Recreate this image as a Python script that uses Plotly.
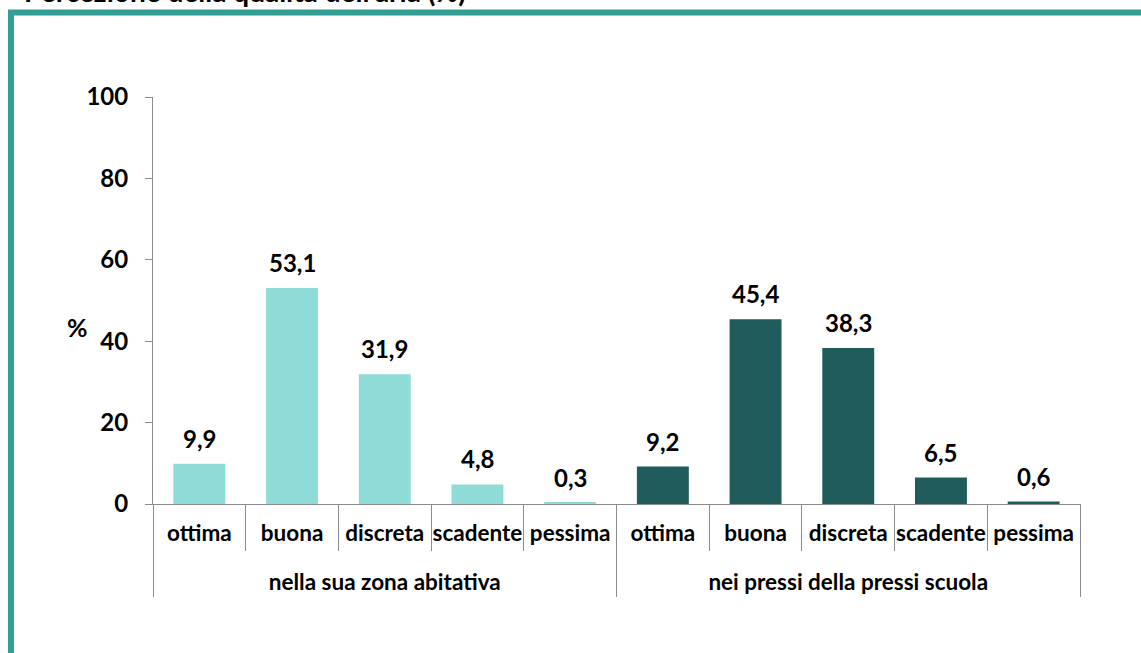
import plotly.graph_objects as go

groups = ["nella sua zona abitativa", "nei pressi della pressi scuola"]
categories = ["ottima", "buona", "discreta", "scadente", "pessima"]
zona_values = [9.9, 53.1, 31.9, 4.8, 0.3]
scuola_values = [9.2, 45.4, 38.3, 6.5, 0.6]
y_ticks = [0, 20, 40, 60, 80, 100]

colors = ["#8FDBD7", "#1F5C5B"]
grey = "#8C8C8C"
font = "Lato, Open Sans, sans-serif"


def fmt(v):
    return f"{v:.1f}".replace(".", ",")


n = len(categories)
all_labels = categories * len(groups)
positions = list(range(len(all_labels)))
group_centers = [g * n + (n - 1) / 2 for g in range(len(groups))]

fig = go.Figure()
for i, vals in enumerate([zona_values, scuola_values]):
    xs = positions[i * n:(i + 1) * n]
    fig.add_trace(go.Bar(
        x=xs, y=vals,
        marker=dict(color=colors[i], line=dict(width=0)),
        showlegend=False, hoverinfo="skip",
    ))
    for x, v in zip(xs, vals):
        fig.add_annotation(x=x, y=v, xref="x", yref="y", text=f"<b>{fmt(v)}</b>",
                           showarrow=False, yanchor="bottom", yshift=9,
                           font=dict(size=24, color="black", family=font))

# hidden trace to activate the group axis
fig.add_trace(go.Scatter(x=[positions[0]], y=[0], xaxis="x2", yaxis="y",
                         mode="markers", marker=dict(opacity=0), showlegend=False,
                         hoverinfo="skip"))

fig.add_annotation(x=-0.095, y=0.54, xref="paper", yref="paper", text="<b>%</b>",
                   showarrow=False, font=dict(size=25, color="black", family=font))

fig.add_annotation(x=-0.1413, y=1.1735, xref="paper", yref="paper", xanchor="left", yanchor="bottom",
                   text="<b>Percezione della qualità dell'aria (%)</b>", showarrow=False,
                   font=dict(size=28, color="black", family=font))

# frame
fig.add_shape(type="rect", xref="paper", yref="paper",
              x0=-0.1532, x1=1.2, y0=-0.5, y1=1.169,
              line=dict(color="#339E96", width=6), layer="below")

xrange = [-0.5, len(all_labels) - 0.5]
fig.update_layout(
    width=1141, height=653,
    margin=dict(l=153, r=61, t=97, b=56),
    paper_bgcolor="white", plot_bgcolor="white",
    barmode="overlay", bargap=0.44,
    font=dict(family=font, color="black"),
    xaxis=dict(
        range=xrange, anchor="y",
        tickmode="array", tickvals=positions, ticktext=[f"<b>{c}</b>" for c in all_labels],
        ticks="", showline=True, linecolor=grey, linewidth=1, showgrid=False, zeroline=False,
        tickfont=dict(size=22.5, color="black", family=font), ticklabelstandoff=9,
        minor=dict(tickmode="linear", tick0=-0.5, dtick=1, ticks="outside",
                   ticklen=46, tickcolor=grey, tickwidth=1, showgrid=False),
    ),
    xaxis2=dict(
        range=xrange, overlaying="x", anchor="free", position=0, side="bottom",
        tickmode="array", tickvals=group_centers, ticktext=[f"<b>{g}</b>" for g in groups],
        ticks="", ticklabelposition="inside", showline=False, showgrid=False, zeroline=False,
        tickfont=dict(size=22.5, color="black", family=font),
        minor=dict(tickmode="linear", tick0=-0.5, dtick=n, ticks="inside",
                   ticklen=93, tickcolor=grey, tickwidth=1, showgrid=False),
    ),
    yaxis=dict(
        domain=[0.186, 1], range=[0, 100], tickvals=y_ticks,
        showline=True, linecolor=grey, linewidth=1,
        ticks="outside", ticklen=7, tickcolor=grey,
        tickfont=dict(size=24, color="black", family=font, weight="bold"),
        showgrid=False, zeroline=False, ticklabelstandoff=12,
    ),
)

fig.write_html("out.html", config={"displayModeBar": False},
               post_script="document.body.style.margin='0px';")
